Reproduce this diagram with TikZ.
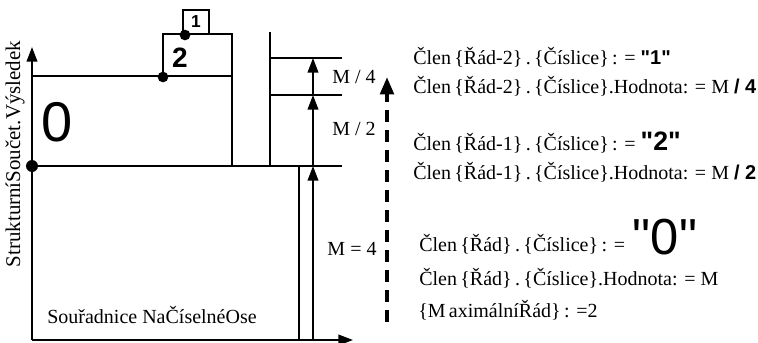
\documentclass[tikz,border=0pt]{standalone}
\usepackage{fontspec}
\setmainfont{Liberation Serif}
\setsansfont{Liberation Sans}
\usetikzlibrary{arrows, arrows.meta, positioning}
\tikzstyle{arrow}   = [line width=1.4pt, -{Triangle[length=11pt,width=8pt]}]
\tikzstyle{line}    = [line width=1.4pt]
\tikzstyle{dashedarrow} = [line width=3pt, dash pattern=on 9pt off 6pt, -{Triangle[length=13pt,width=10pt]}]
\tikzstyle{dot}     = [circle, fill=black, inner sep=0pt, minimum size=8pt]
\tikzstyle{popis}   = [font=\fontsize{15}{17}\selectfont, inner sep=0pt, anchor=west]
\tikzstyle{miry}    = [font=\fontsize{15}{17}\selectfont, inner sep=0pt]
\newcommand{\tucne}[1]{{\sffamily\bfseries #1}}
\newcommand{\uvoz}[1]{\textquotedbl#1\textquotedbl}

\begin{document}
\begin{tikzpicture}[x=0.75pt, y=-0.75pt]
\useasboundingbox (0,0) rectangle (758,343);

% osy
\coordinate (o) at (32,340);
\coordinate (ytop) at (32,47);
\coordinate (xend) at (353,340);
\draw[arrow] (o) -- (ytop);
\draw[arrow] (o) -- (xend);

% obdélníky
\draw[line] (32,76) rectangle (232,166);
\draw[line] (163,34) rectangle (232,76);
\draw[line] (183,10) rectangle (209,34);
\draw[line] (32,166) -- (342,166);
\draw[line] (299,166) -- (299,340);
\draw[line] (270,32) -- (270,166);
\draw[line] (270,58) -- (342,58);
\draw[line] (270,95) -- (342,95);

% body
\node[dot, minimum size=9pt] (d0) at (32,166) {};
\node[dot] (d2) at (163,77) {};
\node[dot] (d1) at (185,35) {};

% číslice
\node[inner sep=0pt, font=\sffamily\fontsize{42}{42}\selectfont] (c0) at (57,122) {0};
\node[inner sep=0pt, font=\sffamily\bfseries\fontsize{21}{21}\selectfont] (c2) at (180,58) {2};
\node[inner sep=0pt, font=\sffamily\bfseries\fontsize{13}{13}\selectfont] (c1) at (196,22) {1};

% míry
\coordinate (m0) at (313,340);
\coordinate (m1) at (313,166);
\coordinate (m2) at (313,95);
\coordinate (m3) at (313,58);
\draw[arrow] (m0) -- (m1);
\draw[arrow] (m1) -- (m2);
\draw[arrow] (m2) -- (m3);
\node[miry] (mq) at (354,77) {M / 4};
\node[miry] (mh) at (354,129) {M / 2};
\node[miry] (mm) at (352,249) {M = 4};

% čárkovaná šipka
\coordinate (s0) at (387,322);
\coordinate (s1) at (387,77);
\draw[dashedarrow] (s0) -- (s1);

% popisy os
\node[miry, rotate=90, font=\fontsize{15.7}{17}\selectfont] (osay) at (15,154) {StrukturníSoučet.Výsledek};
\node[miry] (osax) at (152,315) {Souřadnice NaČíselnéOse};

% vpravo
\node[popis] (t1) at (413,57) {Člen\,\{Řád-2\}\,.\,\{Číslice\}\,: = \tucne{\uvoz{1}}};
\node[popis] (t2) at (413,86) {Člen\,\{Řád-2\}\,.\,\{Číslice\}.Hodnota: = M \tucne{/ 4}};
\node[popis] (t3) at (413,143) {Člen\,\{Řád-1\}\,.\,\{Číslice\}\,: = {\sffamily\bfseries\fontsize{20}{20}\selectfont\uvoz{2}}};
\node[popis] (t4) at (413,172) {Člen\,\{Řád-1\}\,.\,\{Číslice\}.Hodnota: = M \tucne{/ 2}};
\node[popis] (t5) at (419,244) {Člen\,\{Řád\}\,.\,\{Číslice\}\,: =};
\node[inner sep=0pt, font=\sffamily\fontsize{38}{38}\selectfont] (n0) at (665,237) {\uvoz{0}};
\node[popis] (t6) at (419,278) {Člen\,\{Řád\}\,.\,\{Číslice\}.Hodnota: = M};
\node[popis] (t7) at (418,310) {\{M\,aximálníŘád\}\,: =2};

\end{tikzpicture}
\end{document}
